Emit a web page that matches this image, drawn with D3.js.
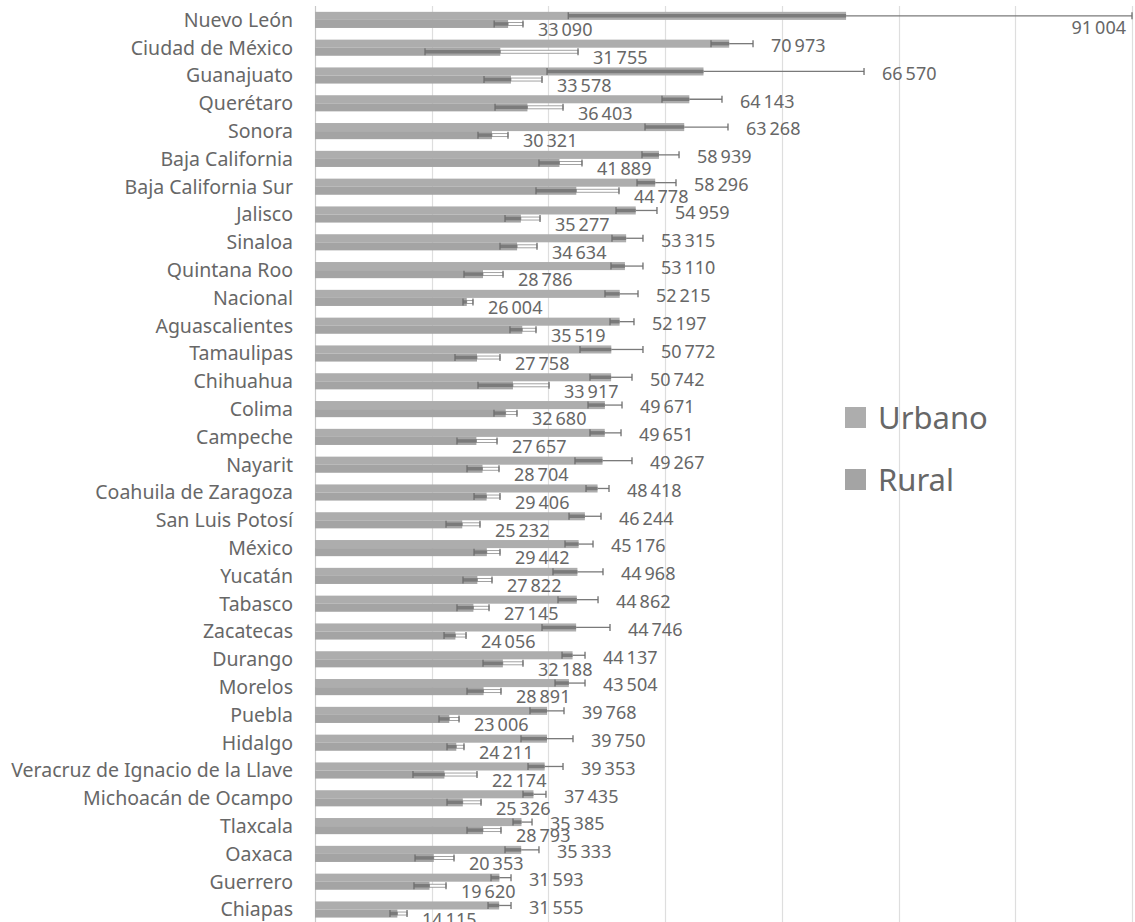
<!DOCTYPE html>
<html>
<head>
<meta charset="utf-8">
<script src="https://cdn.jsdelivr.net/npm/d3@7"></script>
<style>
  body { margin: 0; background: #fff; }
  svg { display: block; font-family: "Noto Sans", "Open Sans", sans-serif; }
</style>
</head>
<body>
<svg width="1135" height="922"></svg>
<script>
// Ingreso promedio por entidad, urbano vs rural (con intervalos de confianza)
const categories = [
  "Nuevo León", "Ciudad de México", "Guanajuato", "Querétaro", "Sonora",
  "Baja California", "Baja California Sur", "Jalisco", "Sinaloa", "Quintana Roo",
  "Nacional", "Aguascalientes", "Tamaulipas", "Chihuahua", "Colima", "Campeche",
  "Nayarit", "Coahuila de Zaragoza", "San Luis Potosí", "México", "Yucatán",
  "Tabasco", "Zacatecas", "Durango", "Morelos", "Puebla", "Hidalgo",
  "Veracruz de Ignacio de la Llave", "Michoacán de Ocampo", "Tlaxcala", "Oaxaca",
  "Guerrero", "Chiapas"
];

const urbano = [
  91004, 70973, 66570, 64143, 63268, 58939, 58296, 54959, 53315, 53110,
  52215, 52197, 50772, 50742, 49671, 49651, 49267, 48418, 46244, 45176,
  44968, 44862, 44746, 44137, 43504, 39768, 39750, 39353, 37435, 35385,
  35333, 31593, 31555
];
const urbanoLow = [
  43400, 67860, 39760, 59460, 56550, 56030, 55180, 51580, 50890, 50720,
  49690, 50550, 45410, 47120, 46780, 47120, 44550, 46440, 43530, 42840,
  40780, 41640, 38900, 42330, 41130, 36840, 35300, 36500, 35640, 33930,
  32560, 30160, 29650
];
const urbanoHigh = [
  140000, 75060, 94080, 69740, 70770, 62380, 61860, 58600, 56200, 56200,
  55350, 54660, 56200, 54320, 52610, 52440, 54320, 50380, 49010, 47640,
  49350, 48500, 50550, 46270, 46270, 42670, 44210, 42500, 39580, 37190,
  38380, 33590, 33590
];

const rural = [
  33090, 31755, 33578, 36403, 30321, 41889, 44778, 35277, 34634, 28786,
  26004, 35519, 27758, 33917, 32680, 27657, 28704, 29406, 25232, 29442,
  27822, 27145, 24056, 32188, 28891, 23006, 24211, 22174, 25326, 28793,
  20353, 19620, 14115
];
const ruralLow = [
  30700, 18850, 28960, 30850, 27930, 38380, 37870, 32560, 31700, 25530,
  25360, 33410, 23990, 27930, 30670, 24330, 26050, 27250, 22450, 27250,
  25360, 24330, 22110, 28790, 26050, 21250, 22620, 16790, 22620, 26050,
  17140, 16960, 12850
];
const ruralHigh = [
  35640, 45070, 38900, 42500, 33070, 45750, 52090, 38560, 38040, 32220,
  27070, 37870, 31700, 40100, 34610, 31190, 31530, 31700, 28270, 31700,
  30330, 29820, 25880, 35640, 31870, 24680, 25530, 27760, 28450, 31870,
  23820, 22450, 15770
];

const seriesNames = ["Urbano", "Rural"];
const colors = { Urbano: "#adadad", Rural: "#a4a4a4" };

const width = 1135, height = 922;
const svg = d3.select("svg");

const fmt = d3.formatLocale({ decimal: ",", thousands: "\u2009", grouping: [3], currency: ["$", ""] }).format(",d");

const x = d3.scaleLinear().domain([0, 140000]).range([315, 1132]);
const y = d3.scaleBand()
  .domain(categories)
  .range([6, 6 + categories.length * 27.8])
  .paddingInner(0.42)
  .paddingOuter(0.21);
const sub = d3.scaleBand().domain(seriesNames).range([0, y.bandwidth()]);

// rows of data, one per category and series
const rows = [];
categories.forEach((c, i) => {
  rows.push({ cat: c, s: "Urbano", v: urbano[i], lo: urbanoLow[i], hi: urbanoHigh[i] });
  rows.push({ cat: c, s: "Rural", v: rural[i], lo: ruralLow[i], hi: ruralHigh[i] });
});

// gridlines
svg.append("g")
  .selectAll("line")
  .data(x.ticks(7))
  .join("line")
  .attr("x1", (d) => Math.round(x(d)) + 0.5)
  .attr("x2", (d) => Math.round(x(d)) + 0.5)
  .attr("y1", 6)
  .attr("y2", height)
  .attr("stroke", (d) => (d === 0 ? "#c8c8c8" : "#dedede"))
  .attr("stroke-width", 1.2);

// bars
svg.append("g")
  .selectAll("rect")
  .data(rows)
  .join("rect")
  .attr("x", x(0))
  .attr("y", (d) => y(d.cat) + sub(d.s))
  .attr("width", (d) => x(d.v) - x(0))
  .attr("height", sub.bandwidth())
  .attr("fill", (d) => colors[d.s]);

// error bars
const err = svg.append("g").selectAll("g").data(rows).join("g")
  .attr("transform", (d) => `translate(0,${y(d.cat) + sub(d.s) + sub.bandwidth() / 2})`);

// part of the error bar outside the bar
err.filter((d) => d.hi > d.v && d.s === "Rural")
  .append("rect")
  .attr("x", (d) => x(Math.max(d.lo, d.v)))
  .attr("y", -1.5)
  .attr("width", (d) => x(d.hi) - x(Math.max(d.lo, d.v)))
  .attr("height", 3)
  .attr("fill", "#fff")
  .attr("stroke", "#8c8c8c")
  .attr("stroke-width", 0.8);

err.filter((d) => d.hi > d.v && d.s === "Urbano")
  .append("line")
  .attr("x1", (d) => x(Math.max(d.lo, d.v)))
  .attr("x2", (d) => x(d.hi))
  .attr("stroke", "#7a7a7a")
  .attr("stroke-width", 1.3);

// part over the bar
err.append("line")
  .attr("x1", (d) => x(d.lo))
  .attr("x2", (d) => x(Math.min(d.hi, d.v)))
  .attr("stroke", "#7b7b7b")
  .attr("stroke-width", 3.5);

// caps
err.selectAll("line.cap")
  .data((d) => [d.lo, d.hi])
  .join("line")
  .attr("class", "cap")
  .attr("x1", (v) => x(v))
  .attr("x2", (v) => x(v))
  .attr("y1", -3.5)
  .attr("y2", 3.5)
  .attr("stroke", "#6e6e6e")
  .attr("stroke-width", 1.3);

// category labels
svg.append("g")
  .selectAll("text")
  .data(categories)
  .join("text")
  .attr("x", 293)
  .attr("y", (d) => y(d) + y.bandwidth() / 2)
  .attr("dy", "0.35em")
  .attr("text-anchor", "end")
  .attr("fill", "#676767")
  .attr("font-size", 19.5)
  .text((d) => d);

// value labels
svg.append("g")
  .selectAll("text")
  .data(rows)
  .join("text")
  .each(function (d) {
    const mid = y(d.cat) + y.bandwidth() / 2;
    let lx = x(d.hi) + (d.s === "Urbano" ? 18 : 15);
    let ly = d.s === "Urbano" ? mid - 2 : mid + 10;
    let anchor = "start";
    if (lx + 60 > width) {
      lx = x(d.hi) - 6;
      ly = mid + 8;
      anchor = "end";
    }
    d3.select(this)
      .attr("x", lx)
      .attr("y", ly)
      .attr("text-anchor", anchor);
  })
  .attr("dy", "0.35em")
  .attr("fill", "#676767")
  .attr("font-size", 18)
  .text((d) => fmt(d.v));

// legend
const legend = svg.append("g")
  .selectAll("g")
  .data(seriesNames)
  .join("g")
  .attr("transform", (d, i) => `translate(845,${407 + i * 62})`);

legend.append("rect")
  .attr("width", 21)
  .attr("height", 21)
  .attr("fill", (d) => colors[d]);

legend.append("text")
  .attr("x", 33)
  .attr("y", 10.5)
  .attr("dy", "0.36em")
  .attr("fill", "#676767")
  .attr("font-size", 31)
  .text((d) => d);
</script>
</body>
</html>
